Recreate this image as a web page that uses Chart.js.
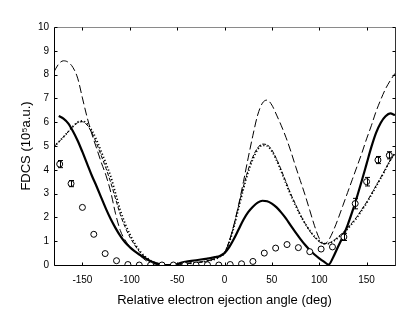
<!DOCTYPE html>
<html>
<head>
<meta charset="utf-8">
<script src="https://cdn.jsdelivr.net/npm/chart.js@4.4.1/dist/chart.umd.min.js"></script>
<style>
  html, body { margin: 0; padding: 0; background: #fff; }
  canvas { display: block; }
</style>
</head>
<body>
<canvas id="fdcs" width="415" height="322"></canvas>
<script>
// angle grid for the theory curves (deg)
const angles = [
  -180, -175, -170, -165, -160, -155, -150, -145, -140, -135, -130, -125, -120,
  -115, -110, -105, -100, -95, -90, -85, -80, -75, -70, -65, -60, -55, -50, -45,
  -40, -35, -30, -25, -20, -15, -10, -5, 0, 5, 10, 15, 20, 25, 30, 35, 40, 45,
  50, 55, 60, 65, 70, 75, 80, 85, 90, 95, 100, 105, 110, 115, 120, 125, 130,
  135, 140, 145, 150, 155, 160, 165, 170, 175, 180
];

// thick solid curve
const solidCurve = [
  null, 6.26, 6.15, 5.95, 5.62, 5.22, 4.75, 4.25, 3.75, 3.3, 2.82, 2.35, 1.92,
  1.55, 1.22, 0.95, 0.75, 0.58, 0.44, 0.32, 0.2, 0.11, 0.05, 0.01, 0, 0, 0.04, 0.1,
  0.14, 0.17, 0.2, 0.23, 0.26, 0.29, 0.33, 0.38, 0.5, 0.75, 1.1, 1.5, 1.9, 2.22, 2.45, 2.62, 2.7, 2.68,
  2.58, 2.42, 2.2, 1.95, 1.65, 1.37, 1.1, 0.85, 0.63, 0.44, 0.28, 0.14, 0.02, 0.35, 0.78, 1.2, 1.68,
  2.25, 2.88, 3.55, 4.25, 4.95, 5.55, 5.98, 6.25, 6.37, 6.3
];

// long dashed curve
const longDashCurve = [
  8.12, 8.45, 8.58, 8.52, 8.3, 7.85, 7.02, 6.2, 5.5, 4.9, 4.3, 3.75, 3.05,
  2.15, 1.45, 1.05, 0.78, 0.58, 0.42, 0.25, 0.12, 0.05, 0.02, 0, 0, 0, 0.02, 0.05,
  0.07, 0.09, 0.11, 0.13, 0.16, 0.2, 0.26, 0.35, 0.5, 1.0, 1.7, 2.55, 3.5, 4.5, 5.45, 6.3, 6.8, 6.93,
  6.72, 6.3, 5.85, 5.35, 4.78, 4.15, 3.55, 2.95, 2.3, 1.65, 1.12, 0.88, 1.05, 1.45, 1.95, 2.5, 3.05,
  3.6, 4.15, 4.7, 5.3, 5.85, 6.45, 6.95, 7.4, 7.75, 8.05
];

// short dashed curve
const shortDashCurve = [
  4.97, 5.17, 5.38, 5.6, 5.82, 5.98, 6.02, 5.88, 5.55, 5.1, 4.58, 4.05, 3.45,
  2.78, 2.12, 1.6, 1.18, 0.85, 0.57, 0.37, 0.22, 0.11, 0.04, 0.01, 0, 0, 0.01, 0.03,
  0.05, 0.07, 0.09, 0.12, 0.15, 0.2, 0.27, 0.36, 0.52, 1.0, 1.68, 2.5, 3.3, 4.0, 4.55, 4.92, 5.08, 5.05,
  4.83, 4.45, 3.98, 3.48, 2.98, 2.55, 2.12, 1.75, 1.43, 1.17, 0.98, 0.9, 0.92, 1.02, 1.18, 1.36, 1.56,
  1.79, 2.04, 2.34, 2.64, 2.98, 3.33, 3.68, 4.04, 4.4, 4.7
];

// dotted curve
const dottedCurve = [
  4.97, 5.17, 5.38, 5.6, 5.82, 6.0, 6.05, 5.93, 5.65, 5.25, 4.75, 4.25, 3.7,
  3.0, 2.3, 1.75, 1.3, 0.92, 0.62, 0.4, 0.24, 0.12, 0.05, 0.01, 0, 0, 0.01, 0.03,
  0.05, 0.07, 0.09, 0.12, 0.15, 0.19, 0.25, 0.34, 0.5, 0.95, 1.6, 2.4, 3.2, 3.9, 4.45, 4.85, 5.03, 5.0,
  4.78, 4.4, 3.92, 3.42, 2.93, 2.5, 2.1, 1.75, 1.45, 1.2, 1.02, 0.9, 0.9, 1.0, 1.15, 1.32, 1.52,
  1.75, 2.0, 2.3, 2.6, 2.95, 3.3, 3.65, 4.02, 4.4, 4.7
];

// measured points with error bars
const expAngles = [
  -174, -162, -150, -138, -126, -114, -102, -90, -78, -66, -54, -42, -30, -18, -6,
  6, 18, 30, 42, 54, 66, 78, 90, 102, 114, 126, 138, 150, 162, 174
];
const expValues = [
  4.24, 3.42, 2.42, 1.29, 0.48, 0.18, 0.02, 0, 0, 0, 0, 0, 0, 0.01, 0,
  0.02, 0.05, 0.15, 0.5, 0.71, 0.86, 0.73, 0.56, 0.67, 0.76, 1.18, 2.58, 3.5, 4.41, 4.61
];
const expErrors = [
  0.15, 0.13, 0.1, 0.06, 0.04, 0.03, 0.02, 0.01, 0.01, 0.01, 0.01, 0.01, 0.01, 0.01, 0.01,
  0.01, 0.02, 0.03, 0.04, 0.05, 0.05, 0.05, 0.05, 0.06, 0.1, 0.15, 0.22, 0.18, 0.15, 0.15
];

const xTicks = [-150, -100, -50, 0, 50, 100, 150];
const yTicks = [0, 1, 2, 3, 4, 5, 6, 7, 8, 9, 10];

const FONT = "'Liberation Sans', Arial, sans-serif";
Chart.defaults.font.family = FONT;
Chart.defaults.color = '#000';

const toPoints = (vals) => angles.map((a, i) => ({ x: a, y: vals[i] }));

function curve(vals, width, dash) {
  return {
    data: toPoints(vals),
    borderColor: '#000',
    borderWidth: width,
    borderDash: dash,
    pointRadius: 0,
    fill: false,
    cubicInterpolationMode: 'monotone',
    spanGaps: false
  };
}

// frame and inward tick marks
const framePlugin = {
  id: 'frame',
  beforeDatasetsDraw(chart) {
    const { ctx, chartArea: a, scales: { x, y } } = chart;
    const L = a.left + 0.5, R = a.right + 0.5, T = a.top + 0.5, B = a.bottom + 0.5;
    ctx.save();
    ctx.lineWidth = 1;
    ctx.strokeStyle = '#8a8a8a';
    ctx.beginPath();
    ctx.moveTo(L, T); ctx.lineTo(R, T);
    ctx.stroke();
    ctx.strokeStyle = '#333';
    ctx.beginPath();
    ctx.moveTo(R, T); ctx.lineTo(R, B);
    ctx.stroke();
    ctx.strokeStyle = '#000';
    ctx.beginPath();
    ctx.moveTo(L, T); ctx.lineTo(L, B); ctx.lineTo(R, B);
    ctx.stroke();
    ctx.beginPath();
    xTicks.forEach(v => {
      const px = Math.round(x.getPixelForValue(v)) + 0.5;
      ctx.moveTo(px, B); ctx.lineTo(px, B - 3);
      ctx.moveTo(px, T); ctx.lineTo(px, T + 3);
    });
    yTicks.forEach(v => {
      const py = Math.round(y.getPixelForValue(v)) + 0.5;
      ctx.moveTo(L, py); ctx.lineTo(L + 3, py);
      ctx.moveTo(R, py); ctx.lineTo(R - 3, py);
    });
    ctx.stroke();
    ctx.restore();
  }
};

// vertical error bars for the measured points
const errorBarPlugin = {
  id: 'errorBars',
  afterDatasetsDraw(chart) {
    const { ctx, chartArea: a, scales: { x, y } } = chart;
    ctx.save();
    ctx.beginPath();
    ctx.rect(a.left, a.top, a.right - a.left, a.bottom - a.top);
    ctx.clip();
    ctx.strokeStyle = '#000';
    ctx.lineWidth = 1;
    ctx.beginPath();
    expAngles.forEach((ang, i) => {
      const px = Math.round(x.getPixelForValue(ang)) + 0.5;
      const top = y.getPixelForValue(expValues[i] + expErrors[i]);
      const bot = y.getPixelForValue(expValues[i] - expErrors[i]);
      if (bot - top < 6) return;
      ctx.moveTo(px, top); ctx.lineTo(px, bot);
      ctx.moveTo(px - 2.5, top); ctx.lineTo(px + 2.5, top);
      ctx.moveTo(px - 2.5, bot); ctx.lineTo(px + 2.5, bot);
    });
    ctx.stroke();
    ctx.restore();
  }
};

new Chart(document.getElementById('fdcs'), {
  type: 'line',
  data: {
    datasets: [
      {
        data: expAngles.map((a, i) => ({ x: a, y: expValues[i] })),
        showLine: false,
        pointRadius: 3,
        pointStyle: 'circle',
        pointBackgroundColor: '#fff',
        pointBorderColor: '#000',
        pointBorderWidth: 1,
        borderColor: '#000'
      },
      curve(solidCurve, 2.2, []),
      curve(dottedCurve, 1.8, [1.2, 2.2]),
      curve(shortDashCurve, 1, [4, 2]),
      curve(longDashCurve, 1, [8, 3.5])
    ]
  },
  options: {
    responsive: false,
    animation: false,
    devicePixelRatio: 1,
    layout: { padding: { top: 27, right: 20, bottom: 0, left: 0 } },
    plugins: { legend: { display: false }, tooltip: { enabled: false } },
    scales: {
      x: {
        type: 'linear',
        min: -180,
        max: 180,
        afterBuildTicks: (s) => { s.ticks = xTicks.map(v => ({ value: v })); },
        afterFit: (s) => { s.height = 57; },
        grid: { display: false, drawTicks: false },
        border: { display: false },
        ticks: { padding: 9, font: { size: 10 }, color: '#000', maxRotation: 0 },
        title: {
          display: true,
          text: 'Relative electron ejection angle (deg)',
          font: { size: 13 },
          color: '#000',
          padding: { top: 0, bottom: 14 }
        }
      },
      y: {
        type: 'linear',
        min: 0,
        max: 10,
        afterBuildTicks: (s) => { s.ticks = yTicks.map(v => ({ value: v })); },
        afterFit: (s) => { s.width = 54; },
        grid: { display: false, drawTicks: false },
        border: { display: false },
        ticks: { padding: 5, font: { size: 10 }, color: '#000' },
        title: {
          display: true,
          text: 'FDCS (10⁵a.u.)',
          font: { size: 13 },
          color: '#000',
          padding: { top: 19, bottom: 0 }
        }
      }
    }
  },
  plugins: [framePlugin, errorBarPlugin]
});
</script>
</body>
</html>
